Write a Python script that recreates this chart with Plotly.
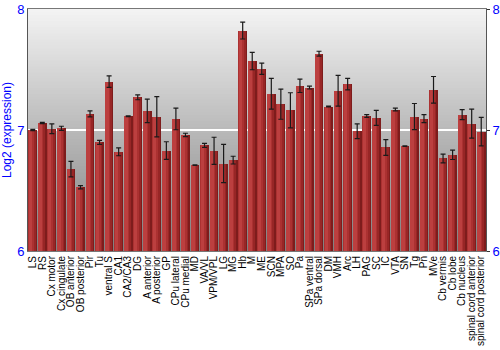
import plotly.graph_objects as go

regions = ["LS", "RS", "Cx motor", "Cx cingulate", "OB anterior", "OB posterior", "Pir", "Tu",
           "ventral S", "CA1", "CA2/CA3", "DG", "A anterior", "A posterior", "GP", "CPu lateral",
           "CPu medial", "MD", "VA/VL", "VPM/VPL", "LG", "MG", "Hb", "M", "ME", "SCN", "MPA", "SO",
           "Pa", "SPa ventral", "SPa dorsal", "DM", "VMH", "Arc", "LH", "PAG", "SC", "IC", "VTA",
           "SN", "Tg", "Pn", "MVe", "Cb vermis", "Cb lobe", "Cb nucleus", "spinal cord anterior",
           "spinal cord posterior"]
expression = [7.00, 7.058, 7.01, 7.014, 6.676, 6.527, 7.133, 6.898,
              7.40, 6.82, 7.113, 7.27, 7.158, 7.11, 6.83, 7.091,
              6.959, 6.71, 6.873, 6.828, 6.723, 6.751, 7.822, 7.57, 7.506, 7.299, 7.213, 7.163,
              7.365, 7.351, 7.631, 7.194, 7.324, 7.379, 6.989, 7.116, 7.10, 6.856, 7.169,
              6.867, 7.111, 7.094, 7.332, 6.765, 6.795, 7.127, 7.053,
              6.986]
errors = [0.005, 0.005, 0.04, 0.017, 0.064, 0.014, 0.025, 0.017,
          0.047, 0.033, 0.003, 0.02, 0.097, 0.166, 0.073, 0.089,
          0.014, 0.003, 0.017, 0.112, 0.158, 0.032, 0.07, 0.072, 0.046, 0.127, 0.124, 0.145,
          0.055, 0.012, 0.02, 0.003, 0.127, 0.047, 0.061, 0.011, 0.062, 0.065, 0.011,
          0.003, 0.108, 0.033, 0.11, 0.036, 0.039, 0.041, 0.12,
          0.118]
y_ticks = [6, 7, 8]

fig = go.Figure()

# cylinder-like shading for bars via overlaid layers
layers = [(-0.46, 0.92, "#7e1c1c"), (-0.46, 0.76, "#982626"), (-0.46, 0.58, "#ab3131"),
          (-0.42, 0.38, "#bc3f3f")]
for off, w, col in layers:
    fig.add_trace(go.Bar(x=regions, y=expression, offset=off, width=w,
                         marker=dict(color=col, line=dict(width=0)),
                         showlegend=False, hoverinfo="skip"))

fig.add_trace(go.Scatter(x=regions, y=expression, mode="markers",
                         marker=dict(size=0.1, color="rgba(0,0,0,0)"),
                         error_y=dict(type="data", array=errors, color="#1a1a1a",
                                      thickness=1.2, width=2.5),
                         showlegend=False, hoverinfo="skip"))
fig.add_trace(go.Scatter(x=[regions[0]], y=[7], yaxis="y2", mode="markers",
                         marker=dict(size=0.1, color="rgba(0,0,0,0)"),
                         showlegend=False, hoverinfo="skip"))

# gradient background (overlapping rects, no seams)
n = 80
top = (243, 243, 243)
bot = (128, 128, 128)
shapes = []
for i in range(n):
    t = i / (n - 1)
    c = tuple(int(round(top[k] + (bot[k] - top[k]) * t)) for k in range(3))
    shapes.append(dict(type="rect", xref="paper", yref="paper", x0=0, x1=1,
                       y1=1 - i / n, y0=0, layer="below",
                       fillcolor="rgb(%d,%d,%d)" % c, line=dict(width=0)))

fig.update_layout(
    width=500, height=350,
    margin=dict(l=28, r=14, t=9, b=99, autoexpand=False),
    paper_bgcolor="white", plot_bgcolor="rgba(0,0,0,0)",
    barmode="overlay", bargap=0,
    shapes=shapes,
    font=dict(family="Liberation Sans, Arial, sans-serif", color="black"),
    xaxis=dict(tickangle=-90, tickfont=dict(size=10, color="black"), showgrid=False,
               tickmode="array", tickvals=regions, ticktext=regions, automargin=False,
               showline=True, mirror=True, linecolor="#777777", linewidth=1,
               ticks="", ticklen=0, range=[-0.5, len(regions) - 0.5], fixedrange=True),
    yaxis=dict(range=[6, 8], tickvals=y_ticks, tickfont=dict(size=13, color="blue"),
               showgrid=True, gridcolor="white", gridwidth=1.5, zeroline=False,
               showline=True, linecolor="#555555", linewidth=1, ticks="", automargin=False,
               title=dict(text="Log2 (expression)", font=dict(size=12, color="blue"), standoff=4)),
    yaxis2=dict(range=[6, 8], tickvals=y_ticks, overlaying="y", side="right", automargin=False,
                tickfont=dict(size=13, color="blue"), showgrid=False, zeroline=False,
                showline=True, linecolor="#555555", linewidth=1,
                ticks="outside", ticklen=3, tickcolor="#333333"),
)

fig.write_html("out.html")
